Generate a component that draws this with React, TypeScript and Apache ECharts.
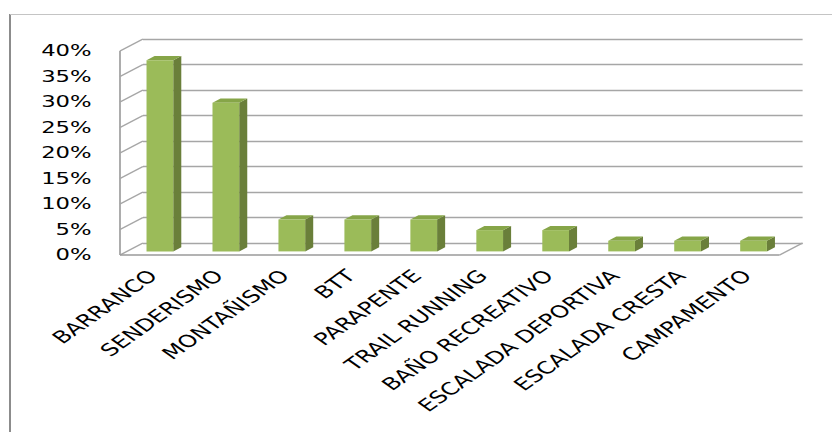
import React, { useEffect, useRef } from "react";
import * as echarts from "echarts";

// ---- data ----
const CATEGORIES: string[] = [
  "BARRANCO",
  "SENDERISMO",
  "MONTAÑISMO",
  "BTT",
  "PARAPENTE",
  "TRAIL RUNNING",
  "BAÑO RECREATIVO",
  "ESCALADA DEPORTIVA",
  "ESCALADA CRESTA",
  "CAMPAMENTO",
];
const VALUES: number[] = [0.375, 0.2917, 0.0625, 0.0625, 0.0625, 0.0417, 0.0417, 0.0208, 0.0208, 0.0208];
const Y_MIN = 0;
const Y_MAX = 0.4;
const Y_STEP = 0.05;
const Y_TICKS: number[] = [0, 0.05, 0.1, 0.15, 0.2, 0.25, 0.3, 0.35, 0.4];

// ---- layout (the original picture is stretched horizontally) ----
const SX = 1.42;
const PAGE_W = 832;
const PAGE_H = 432;
const CW = PAGE_W / SX;
const DEPTH_X = -23 / SX;
const DEPTH_Y = 12;
const FRONT_F = 0.7;
const BACK_F = 0.35;
const BAR_RATIO = 0.405;
const FONT = "DejaVu Sans";

const GRID_LINE = "#a6a6a6";

export default function App() {
  const ref = useRef<HTMLDivElement>(null);

  useEffect(() => {
    if (!ref.current) return;
    const chart = echarts.init(ref.current, undefined, { renderer: "svg" });

    const backLeft = 143 / SX;
    const backRight = (PAGE_W - 802.5) / SX;
    const frontLeft = 120 / SX;
    const frontRight = (PAGE_W - 780) / SX;
    const labShift = 0;

    chart.setOption({
      animation: false,
      backgroundColor: "#ffffff",
      grid: [
        { left: backLeft, right: backRight, top: 39, bottom: PAGE_H - 243 },
        { left: frontLeft, right: frontRight, top: 51, bottom: PAGE_H - 255 },
        { left: frontLeft + labShift, right: frontRight - labShift, top: 51, bottom: PAGE_H - 255 },
      ],
      xAxis: [
        {
          type: "category",
          gridIndex: 0,
          data: CATEGORIES,
          axisLine: { show: false },
          axisTick: { show: false },
          axisLabel: { show: false },
        },
        {
          type: "category",
          gridIndex: 1,
          data: CATEGORIES,
          axisLine: { show: false },
          axisTick: { show: false },
          axisLabel: { show: false },
        },
        {
          type: "category",
          gridIndex: 2,
          data: CATEGORIES,
          axisLine: { show: false },
          axisTick: { show: false },
          axisLabel: {
            interval: 0,
            rotate: 45,
            margin: 18,
            color: "#000000",
            fontFamily: FONT,
            fontSize: 17,
          },
        },
      ],
      yAxis: [
        {
          type: "value",
          gridIndex: 0,
          min: Y_MIN,
          max: Y_MAX,
          interval: Y_STEP,
          axisLine: { show: false },
          axisTick: { show: false },
          axisLabel: { show: false },
          splitLine: { show: true, lineStyle: { color: GRID_LINE, width: 1.3 } },
        },
        {
          type: "value",
          gridIndex: 1,
          min: Y_MIN,
          max: Y_MAX,
          interval: Y_STEP,
          axisLine: { show: false },
          axisTick: { show: false },
          splitLine: { show: false },
          axisLabel: {
            margin: 20,
            color: "#000000",
            fontFamily: FONT,
            fontSize: 16,
            padding: [5, 0, 0, 0],
            formatter: (v: number) => Math.round(v * 100) + "%",
          },
        },
        {
          type: "value",
          gridIndex: 2,
          min: Y_MIN,
          max: Y_MAX,
          interval: Y_STEP,
          show: false,
        },
      ],
      graphic: [
        {
          type: "line",
          shape: { x1: 10 / SX, y1: 14, x2: 10 / SX, y2: PAGE_H },
          style: { stroke: "#8c8c8c", lineWidth: 1.4 },
        },
        {
          type: "line",
          shape: { x1: 10 / SX, y1: 14.5, x2: CW, y2: 14.5 },
          style: { stroke: "#c4c4c4", lineWidth: 1 },
        },
      ],
      series: [
        {
          type: "custom",
          name: "walls",
          xAxisIndex: 0,
          yAxisIndex: 0,
          silent: true,
          z: 1,
          data: Y_TICKS.map((t) => [0, t]),
          renderItem: (params: any, api: any) => {
            const t = api.value(1);
            const p = api.coord([0, t]);
            const band = api.size([1, 0])[0];
            const xl = p[0] - band / 2;
            const children: any[] = [
              {
                type: "line",
                shape: { x1: xl + DEPTH_X, y1: p[1] + DEPTH_Y, x2: xl, y2: p[1] },
                style: { stroke: GRID_LINE, lineWidth: 1.3 },
              },
            ];
            if (params.dataIndex === 0) {
              const pTop = api.coord([0, Y_MAX]);
              const pR = api.coord([CATEGORIES.length - 1, Y_MIN]);
              const xr = pR[0] + band / 2;
              children.push(
                {
                  type: "line",
                  shape: { x1: xl + DEPTH_X, y1: pTop[1] + DEPTH_Y, x2: xl + DEPTH_X, y2: p[1] + DEPTH_Y },
                  style: { stroke: GRID_LINE, lineWidth: 1.3 },
                },
                {
                  type: "line",
                  shape: { x1: xl + DEPTH_X, y1: p[1] + DEPTH_Y, x2: xr + DEPTH_X, y2: p[1] + DEPTH_Y },
                  style: { stroke: "#9a9a9a", lineWidth: 1.6 },
                },
                {
                  type: "line",
                  shape: { x1: xr + DEPTH_X, y1: p[1] + DEPTH_Y, x2: xr, y2: pR[1] },
                  style: { stroke: GRID_LINE, lineWidth: 1.3 },
                }
              );
            }
            return { type: "group", children };
          },
        },
        {
          type: "custom",
          name: "bars",
          xAxisIndex: 0,
          yAxisIndex: 0,
          z: 5,
          data: VALUES.map((v, i) => [i, v]),
          renderItem: (params: any, api: any) => {
            const i = api.value(0);
            const v = api.value(1);
            const top = api.coord([i, v]);
            const base = api.coord([i, Y_MIN]);
            const bw = api.size([1, 0])[0] * BAR_RATIO;
            const fx = DEPTH_X * FRONT_F;
            const fy = DEPTH_Y * FRONT_F;
            const bx = DEPTH_X * BACK_F;
            const by = DEPTH_Y * BACK_F;
            const x0 = top[0] - bw / 2;
            const x1 = top[0] + bw / 2;
            const yt = top[1];
            const yb = base[1];
            return {
              type: "group",
              children: [
                {
                  type: "polygon",
                  shape: {
                    points: [
                      [x1 + fx, yt + fy],
                      [x1 + bx, yt + by],
                      [x1 + bx, yb + by],
                      [x1 + fx, yb + fy],
                    ],
                  },
                  style: { fill: "#6a7f3a" },
                },
                {
                  type: "polygon",
                  shape: {
                    points: [
                      [x0 + fx, yt + fy],
                      [x1 + fx, yt + fy],
                      [x1 + bx, yt + by],
                      [x0 + bx, yt + by],
                    ],
                  },
                  style: { fill: "#86a548" },
                },
                {
                  type: "rect",
                  shape: { x: x0 + fx, y: yt + fy, width: bw, height: yb - yt },
                  style: { fill: "#9bbb59" },
                },
              ],
            };
          },
        },
      ],
    });

    return () => chart.dispose();
  }, []);

  return (
    <div
      style={{
        position: "fixed",
        left: 0,
        top: 0,
        width: PAGE_W,
        height: PAGE_H,
        overflow: "hidden",
        background: "#ffffff",
      }}
    >
      <div
        ref={ref}
        style={{
          width: CW,
          height: PAGE_H,
          transform: `scaleX(${SX})`,
          transformOrigin: "0 0",
        }}
      />
    </div>
  );
}
